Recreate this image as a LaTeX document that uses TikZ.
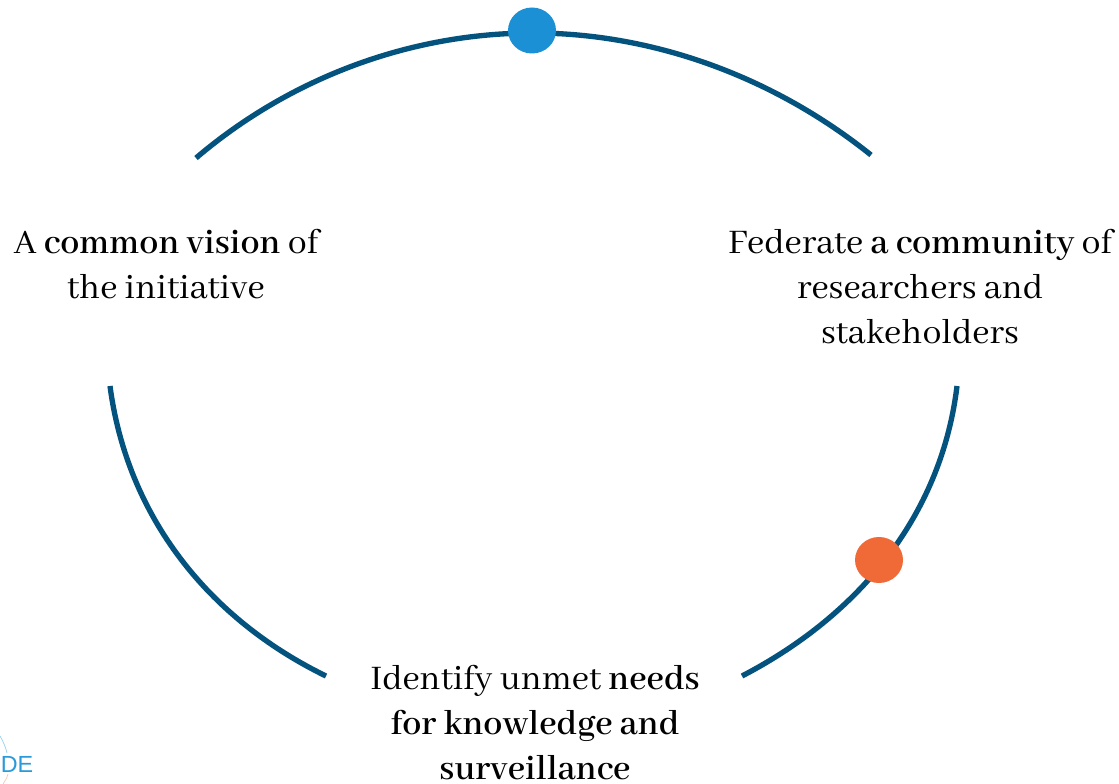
\documentclass[tikz,border=0pt]{standalone}
\usepackage{fontspec}
\setmainfont{Abhaya Libre}
\usetikzlibrary{shapes.geometric}
\definecolor{arcblue}{HTML}{04537E}
\definecolor{dotblue}{HTML}{1C90D4}
\definecolor{dotorange}{HTML}{EF6A37}
\definecolor{logoblue}{HTML}{2A9BD8}
\tikzset{
  arcline/.style={draw=arcblue,line width=4pt},
  lab/.style={align=center,font=\fontsize{28.4}{33.7}\selectfont,text=black,inner sep=0pt},
  dot/.style={ellipse,minimum width=36pt,minimum height=34.5pt,inner sep=0pt}
}
\begin{document}
\begin{tikzpicture}[x=0.75pt,y=-0.75pt]
\useasboundingbox (0,0) rectangle (1119,784);
\coordinate (t1) at (196,158);
\coordinate (t2) at (871,155);
\coordinate (l1) at (110,386);
\coordinate (l2) at (326,676);
\coordinate (r1) at (957,386);
\coordinate (r2) at (742,676);
\draw[arcline] (t1) .. controls (290,78) and (410,33) .. (533,33) .. controls (655,33) and (775,78) .. (t2);
\draw[arcline] (l1) .. controls (127,515) and (207,618) .. (l2);
\draw[arcline] (r1) .. controls (942,510) and (865,612) .. (r2);
\node[dot,fill=dotblue] (top) at (532,30.5) {};
\node[dot,fill=dotorange] (side) at (879,560) {};
\node[lab] (a) at (166,264) {A \textbf{common vision} of\\the initiative};
\node[lab] (b) at (920,287) {Federate \textbf{a community} of\\researchers and\\stakeholders};
\node[lab] (c) at (535,722.5) {Identify unmet \textbf{needs}\\\textbf{for knowledge and}\\\textbf{surveillance}};
\node[font=\fontspec{Liberation Sans}\fontsize{17.5}{18}\selectfont,text=logoblue,inner sep=0pt] (logo) at (17,764) {DE};
\coordinate (la) at (0,736);
\coordinate (lb) at (7,753);
\coordinate (lc) at (8,774);
\coordinate (ld) at (3,784);
\draw[logoblue!50,line width=0.5pt] (la) .. controls (3,741) and (6,748) .. (lb);
\draw[dotorange!40,line width=0.5pt] (lc) .. controls (7,778) and (5,781) .. (ld);
\end{tikzpicture}
\end{document}
